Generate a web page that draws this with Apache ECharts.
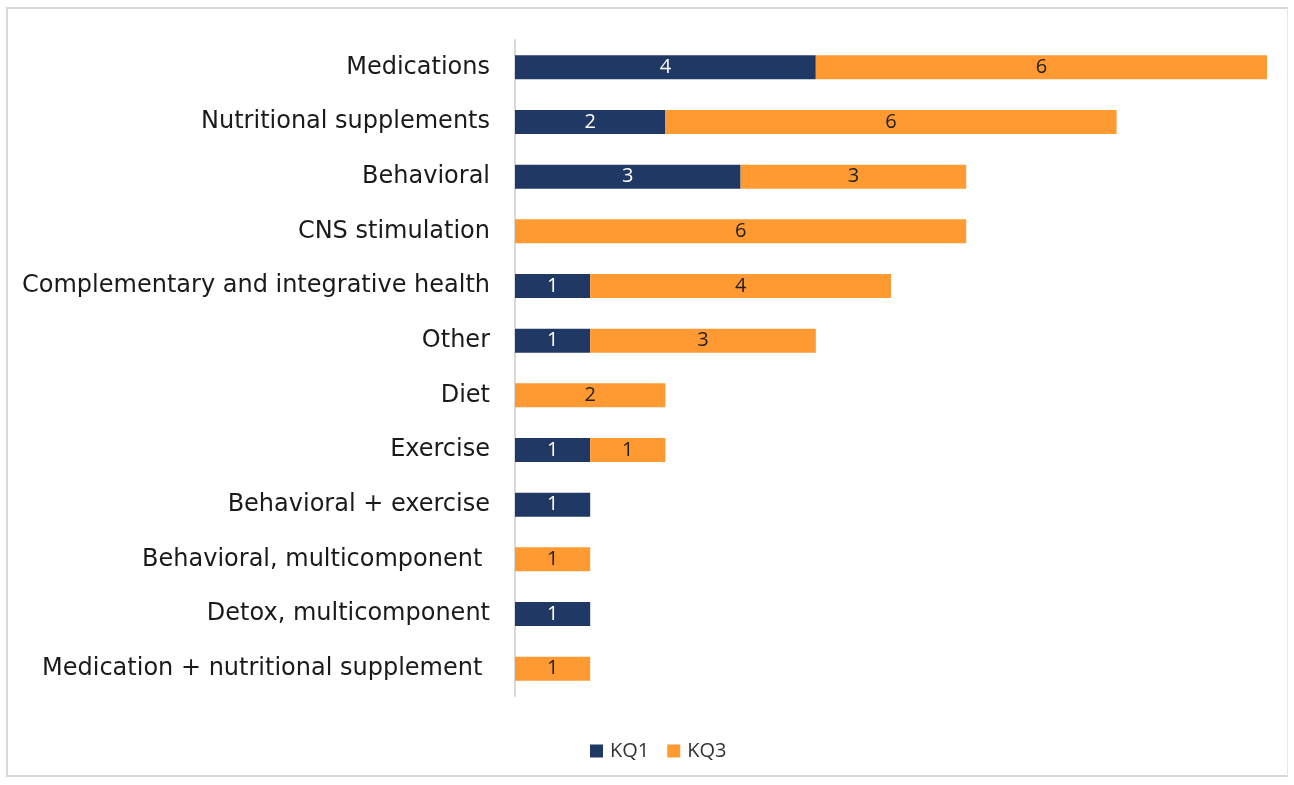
<!DOCTYPE html>
<html><head><meta charset="utf-8">
<script src="https://cdn.jsdelivr.net/npm/echarts@6/dist/echarts.min.js"></script>
<style>
html,body{margin:0;padding:0;background:#fff;}
#frame{position:absolute;left:6px;top:7px;width:1282px;height:770px;border:2px solid #d9d9d9;border-right:1px solid #e8e8e8;box-sizing:border-box;}
#chart{position:absolute;left:0;top:0;width:1294px;height:785px;}
</style></head>
<body>
<div id="frame"></div>
<div id="chart"></div>
<script>
const categories = ["Medications","Nutritional supplements","Behavioral","CNS stimulation","Complementary and integrative health","Other","Diet","Exercise","Behavioral + exercise","Behavioral, multicomponent ","Detox, multicomponent","Medication + nutritional supplement "];
const kq1 = [4,2,3,null,1,1,null,1,1,null,1,null];
const kq3 = [6,6,3,6,4,3,2,1,null,1,null,1];
const seriesNames = ["KQ1","KQ3"];

const chart = echarts.init(document.getElementById('chart'));
chart.setOption({
  animation:false,
  grid:{left:515,top:40,width:752,height:656,containLabel:false},
  xAxis:{type:'value',min:0,max:10,show:false,splitLine:{show:false}},
  yAxis:{type:'category',data:categories,inverse:true,
    axisLine:{show:true,lineStyle:{color:'#d9d9d9',width:2}},
    axisTick:{show:false},
    axisLabel:{color:'#1a1a1a',fontSize:24,fontFamily:'DejaVu Sans',margin:25}},
  legend:{top:736,left:585,itemWidth:13,itemHeight:13,itemGap:18,icon:'rect',
    textStyle:{fontSize:20,color:'#333',fontFamily:'Open Sans',padding:[0,0,0,2]},data:seriesNames},
  series:[
    {name:seriesNames[0],type:'bar',stack:'a',data:kq1,barWidth:24,
     itemStyle:{color:'#203864'},
     label:{show:true,position:'inside',color:'#fff',fontSize:20,fontFamily:'Open Sans'}},
    {name:seriesNames[1],type:'bar',stack:'a',data:kq3,barWidth:24,
     itemStyle:{color:'#FF9A33'},
     label:{show:true,position:'inside',color:'#222',fontSize:20,fontFamily:'Open Sans'}}
  ]
});
</script>
</body></html>
